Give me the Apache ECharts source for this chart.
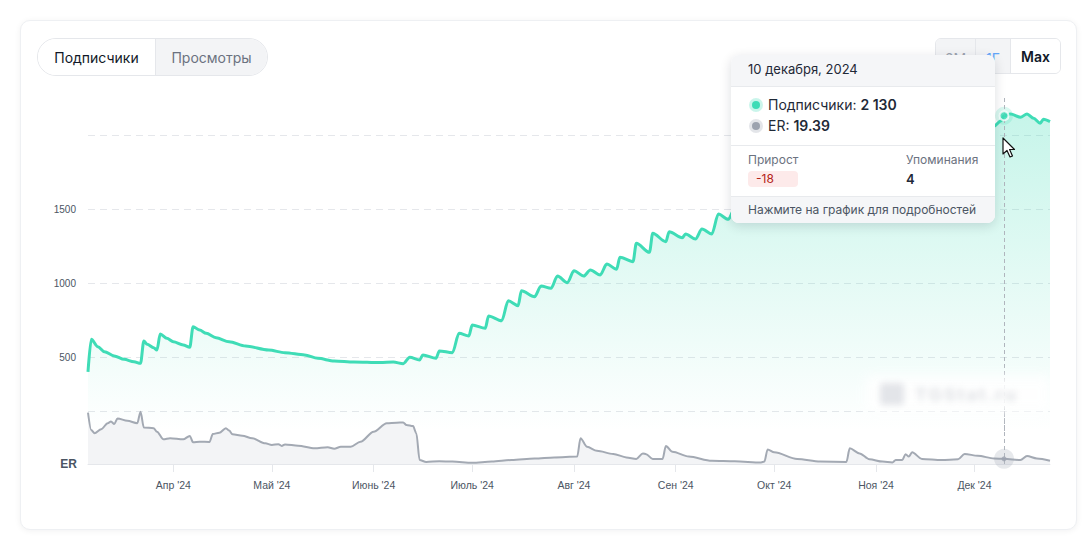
<!DOCTYPE html>
<html><head><meta charset="utf-8">
<script src="https://cdn.jsdelivr.net/npm/echarts@6/dist/echarts.min.js"></script>
<style>
html,body{margin:0;padding:0;background:#fff;width:1092px;height:544px;overflow:hidden;font-family:Inter,"Noto Sans",sans-serif;}
#card{position:absolute;left:20px;top:20px;width:1057px;height:510px;box-sizing:border-box;border:1px solid #eef0f3;border-radius:10px;box-shadow:0 1px 6px rgba(17,24,39,0.06);background:#fff;}
#chart{position:absolute;left:0;top:0;width:1092px;height:544px;}
.tabs{position:absolute;left:37px;top:38px;width:231px;height:38px;box-sizing:border-box;border:1px solid #e5e7eb;border-radius:19px;overflow:hidden;display:flex;font-size:14px;}
.tabs div{display:flex;align-items:center;justify-content:center;height:100%;}
.tabs .on{width:117px;background:#fff;color:#111827;border-right:1px solid #e5e7eb;}
.tabs .off{flex:1;background:#f3f4f6;color:#6b7280;}
.range{position:absolute;left:935px;top:38px;width:126px;height:36px;box-sizing:border-box;border:1px solid #e5e7eb;border-radius:6px;overflow:hidden;display:flex;font-size:14px;}
.range div{display:flex;align-items:center;justify-content:center;height:100%;box-sizing:border-box;padding-top:4px;}
.range .a{width:40px;background:#f3f4f6;border-right:1px solid #e5e7eb;color:#9ca3af;}
.range .b{width:35px;background:#f3f4f6;border-right:1px solid #e5e7eb;color:#60a5fa;}
.range .c{flex:1;background:#fff;color:#111827;font-weight:600;padding-top:0;}
.wm{position:absolute;left:866px;top:376px;width:184px;height:36px;background:#fff;filter:blur(6px);opacity:0.9;}
.wmi{position:absolute;left:880px;top:383px;width:24px;height:22px;background:#e3e5e9;border-radius:4px;filter:blur(3px);}
.wmt{position:absolute;left:915px;top:384px;font-size:18px;font-weight:700;color:#e0e2e6;filter:blur(3px);letter-spacing:2px;}
.tip{position:absolute;left:731px;top:55px;width:264px;height:168px;background:#fff;border-radius:8px;box-shadow:0 3px 12px rgba(17,24,39,0.14);overflow:hidden;color:#1f2937;}
.tip .hd{position:absolute;left:0;top:0;width:100%;height:32px;background:#f5f6f8;border-bottom:1px solid #e8eaed;font-size:13px;line-height:29px;padding-left:17px;box-sizing:border-box;}
.tip .row{position:absolute;left:37px;font-size:14px;line-height:20px;}
.tip .dot{position:absolute;width:8px;height:8px;border-radius:50%;}
.tip .sep{position:absolute;left:0;width:100%;height:1px;background:#e8eaed;}
.tip .lbl{position:absolute;font-size:12px;color:#6b7280;line-height:16px;}
.tip .badge{position:absolute;left:17px;top:116px;width:50px;height:16px;background:#fdeaea;border-radius:4px;color:#b42318;font-size:12px;line-height:16px;padding-left:8px;box-sizing:border-box;}
.tip .ft{position:absolute;left:0;top:142px;width:100%;height:26px;background:#f5f6f8;font-size:12px;color:#4b5563;line-height:26px;padding-left:17px;box-sizing:border-box;}
.cursor{position:absolute;left:1002px;top:137px;}
</style></head>
<body>
<div id="card"></div>
<div id="chart"></div>
<div class="tabs"><div class="on">Подписчики</div><div class="off">Просмотры</div></div>
<div class="range"><div class="a">6М</div><div class="b">1Г</div><div class="c">Max</div></div>
<div class="wm"></div><div class="wmi"></div><div class="wmt">TGStat.ru</div>
<div class="tip">
  <div class="hd">10 декабря, 2024</div>
  <div class="dot" style="left:21px;top:46px;background:#3fdcb6;box-shadow:0 0 0 3px rgba(63,220,182,0.28);"></div>
  <div class="row" style="top:40px;">Подписчики: <b style="font-weight:600">2 130</b></div>
  <div class="dot" style="left:21px;top:67px;background:#9ca3af;box-shadow:0 0 0 3px rgba(156,163,175,0.28);"></div>
  <div class="row" style="top:61px;">ER: <b style="font-weight:600">19.39</b></div>
  <div class="sep" style="top:90px;"></div>
  <div class="lbl" style="left:17px;top:97px;">Прирост</div>
  <div class="badge">-18</div>
  <div class="lbl" style="left:175px;top:97px;">Упоминания</div>
  <div class="lbl" style="left:175px;top:116px;color:#1f2937;font-weight:600;font-size:13px;">4</div>
  <div class="sep" style="top:141px;"></div>
  <div class="ft">Нажмите на график для подробностей</div>
</div>
<svg class="cursor" width="14" height="22" viewBox="0 0 14 22"><path d="M1 1 L1 17 L5 13.5 L8 20 L10.5 19 L7.6 12.5 L12.5 12.5 Z" fill="#fff" stroke="#111" stroke-width="1.2" stroke-linejoin="round"/></svg>
<script>
// ---- data ----
const monthStarts = ['2024-04-01','2024-05-01','2024-06-01','2024-07-01','2024-08-01','2024-09-01','2024-10-01','2024-11-01','2024-12-01'];
const monthLabels = ["Апр '24","Май '24","Июнь '24","Июль '24","Авг '24","Сен '24","Окт '24","Ноя '24","Дек '24"];
const yTickLabels = [500, 1000, 1500];
const rangeStart = '2024-03-06';
const rangeEnd = '2024-12-24';
const focusDate = '2024-12-10';

const subsDates = [
 '2024-03-06','2024-03-07','2024-03-09','2024-03-11','2024-03-14','2024-03-17','2024-03-20','2024-03-22','2024-03-23','2024-03-24','2024-03-26','2024-03-27','2024-03-28','2024-03-30',
 '2024-04-01','2024-04-04','2024-04-06','2024-04-07','2024-04-09','2024-04-11','2024-04-14','2024-04-18','2024-04-23','2024-04-30',
 '2024-05-05','2024-05-11','2024-05-15','2024-05-20','2024-05-26',
 '2024-06-03','2024-06-07','2024-06-10','2024-06-12','2024-06-15','2024-06-16','2024-06-20','2024-06-21','2024-06-25','2024-06-27','2024-06-30',
 '2024-07-01','2024-07-05','2024-07-06','2024-07-10','2024-07-12','2024-07-15','2024-07-16','2024-07-20','2024-07-22','2024-07-25','2024-07-27','2024-07-30',
 '2024-08-01','2024-08-04','2024-08-06','2024-08-09','2024-08-11','2024-08-14','2024-08-15','2024-08-19','2024-08-20','2024-08-24','2024-08-25','2024-08-29','2024-08-30',
 '2024-09-03','2024-09-04','2024-09-07','2024-09-09','2024-09-12','2024-09-14','2024-09-17','2024-09-19','2024-09-23','2024-09-25','2024-09-29',
 '2024-10-02','2024-10-06','2024-10-09','2024-10-13','2024-10-16','2024-10-20','2024-10-23','2024-10-27','2024-10-30',
 '2024-11-03','2024-11-06','2024-11-10','2024-11-13','2024-11-17','2024-11-20','2024-11-24','2024-11-27',
 '2024-12-01','2024-12-04','2024-12-07','2024-12-09','2024-12-10','2024-12-12','2024-12-15','2024-12-17','2024-12-19','2024-12-21','2024-12-22','2024-12-24'
];
const subsValues = [
 400,620,570,536,507,484,468,457,608,586,563,547,655,626,
 603,581,566,705,682,660,630,603,574,547,
 529,514,491,473,466,
 462,466,455,498,480,514,491,541,529,660,642,
 716,694,777,745,880,847,948,907,980,964,1047,1002,
 1083,1047,1088,1054,1128,1093,1174,1144,1268,1207,1336,1279,1347,
 1306,1331,1297,1365,1331,1466,1430,1505,1475,1550,1520,
 1600,1570,1650,1620,1700,1675,1760,1735,1815,
 1790,1860,1835,1910,1890,1960,1940,2020,
 2000,2070,2060,2095,2130,2142,2120,2142,2113,2079,2106,2090
];

const erDates = [
 '2024-03-06','2024-03-07','2024-03-08','2024-03-10','2024-03-12','2024-03-13','2024-03-14','2024-03-15','2024-03-18','2024-03-21','2024-03-22','2024-03-23','2024-03-26','2024-03-27','2024-03-29','2024-03-31',
 '2024-04-04','2024-04-06','2024-04-07','2024-04-09','2024-04-12','2024-04-13','2024-04-15','2024-04-17','2024-04-18','2024-04-19','2024-04-22','2024-04-25','2024-04-29',
 '2024-05-01','2024-05-03','2024-05-04','2024-05-05','2024-05-09','2024-05-14','2024-05-18','2024-05-20','2024-05-22','2024-05-25','2024-05-28',
 '2024-06-01','2024-06-05','2024-06-08','2024-06-10','2024-06-11','2024-06-13','2024-06-14','2024-06-15','2024-06-17','2024-06-21','2024-06-25',
 '2024-07-01','2024-07-07','2024-07-13','2024-07-20','2024-07-26',
 '2024-08-02','2024-08-03','2024-08-05','2024-08-08','2024-08-13','2024-08-17','2024-08-20','2024-08-22','2024-08-23','2024-08-25','2024-08-28','2024-08-29','2024-08-31',
 '2024-09-05','2024-09-12','2024-09-19','2024-09-27','2024-09-28','2024-09-29',
 '2024-10-01','2024-10-08','2024-10-15','2024-10-23','2024-10-24','2024-10-27','2024-10-30',
 '2024-11-03','2024-11-06','2024-11-07','2024-11-09','2024-11-10','2024-11-11','2024-11-12','2024-11-15','2024-11-21','2024-11-26','2024-11-28',
 '2024-12-02','2024-12-07','2024-12-10','2024-12-15','2024-12-17','2024-12-20','2024-12-24'
];
const erValues = [
 194,128,116,131,154,160,151,172,163,154,197,138,135,122,93,97,
 93,106,82,84,83,113,118,135,126,112,107,97,78,
 72,75,68,74,69,59,63,58,65,65,84,
 122,154,156,157,147,143,116,15,8,10,9,
 5,9,15,21,25,
 28,97,65,50,38,25,19,40,37,19,19,68,46,
 28,12,10,6,9,55,
 44,19,9,8,59,40,18,
 9,6,15,15,37,28,44,19,15,18,38,
 31,21,19.39,15,30,21,12
];

// ---- build ----
function ts(s){const p=s.split('-').map(Number);return Date.UTC(p[0],p[1]-1,p[2]);}
const subsData = subsDates.map((d,i)=>[ts(d), subsValues[i]]);
const erData = erDates.map((d,i)=>[ts(d), erValues[i]]);
const monthTs = monthStarts.map(ts);
const fTs = ts(focusDate);
const fSubs = subsValues[subsDates.indexOf(focusDate)];
const fEr = erValues[erDates.indexOf(focusDate)];

const teal = '#3fdcb6';
const axisFont = '"Liberation Sans", Arial, sans-serif';
const chart = echarts.init(document.getElementById('chart'), null, {renderer:'svg'});
chart.setOption({
  animation:false,
  grid:[
    {left:88, width:962, top:98, height:333, outerBoundsMode:'none'},
    {left:88, width:962, top:411, height:53, outerBoundsMode:'none'}
  ],
  xAxis:[
    {type:'value', gridIndex:0, min:ts(rangeStart), max:ts(rangeEnd), show:false, splitLine:{show:false}},
    {type:'value', gridIndex:1, min:ts(rangeStart), max:ts(rangeEnd),
     axisLine:{show:true, lineStyle:{color:'#e5e7eb', width:1}},
     axisTick:{show:true, customValues:monthTs, length:8, lineStyle:{color:'#e5e7eb'}},
     splitLine:{show:false},
     axisLabel:{customValues:monthTs, margin:15, fontSize:10.5, color:'#4b5563', fontFamily:axisFont,
       formatter:function(v){const i=monthTs.indexOf(v);return i>=0?monthLabels[i]:'';}}
    }
  ],
  yAxis:[
    {type:'value', gridIndex:0, min:0, max:2250, interval:500,
     axisLine:{show:false}, axisTick:{show:false},
     splitLine:{show:true, showMinLine:false, showMaxLine:false, lineStyle:{type:[7,5], color:'#e5e7eb', width:1}},
     axisLabel:{margin:12, fontSize:10, color:'#4b5563', fontFamily:axisFont,
       formatter:function(v){return yTickLabels.indexOf(v)>=0?String(v):'';}}
    },
    {type:'value', gridIndex:1, min:0, max:200, interval:200,
     axisLine:{show:false}, axisTick:{show:false},
     splitLine:{show:true, showMinLine:false, showMaxLine:true, lineStyle:{type:[7,5], color:'#e5e7eb', width:1}},
     axisLabel:{margin:11, fontSize:12, fontWeight:'bold', color:'#4b5563', fontFamily:axisFont, padding:[0,0,10,0],
       formatter:function(v){return v===0?'ER':'';}}
    }
  ],
  series:[
    {type:'line', xAxisIndex:0, yAxisIndex:0, data:subsData, showSymbol:false, smooth:0.3, smoothMonotone:'x',
     lineStyle:{color:teal, width:3}, itemStyle:{color:teal},
     areaStyle:{color:new echarts.graphic.LinearGradient(0,0,0,1,[{offset:0,color:'rgba(63,220,182,0.42)'},{offset:1,color:'rgba(63,220,182,0)'}])},
     markLine:{silent:true, symbol:'none', label:{show:false}, lineStyle:{type:[4,3], color:'#b0b5bd', width:1}, data:[{xAxis:fTs}]},
     z:2},
    {type:'line', xAxisIndex:1, yAxisIndex:1, data:erData, showSymbol:false, smooth:0.3, smoothMonotone:'x',
     lineStyle:{color:'#a3a9b3', width:2}, itemStyle:{color:'#a3a9b3'},
     areaStyle:{color:'#f3f4f6', opacity:1},
     markLine:{silent:true, symbol:'none', label:{show:false}, lineStyle:{type:[4,3], color:'#b0b5bd', width:1}, data:[{xAxis:fTs}]},
     z:3},
    {type:'scatter', xAxisIndex:0, yAxisIndex:0, data:[[fTs,fSubs]], symbolSize:18, itemStyle:{color:'rgba(63,220,182,0.25)'}, z:4, silent:true},
    {type:'scatter', xAxisIndex:0, yAxisIndex:0, data:[[fTs,fSubs]], symbolSize:9, itemStyle:{color:teal, borderColor:'#fff', borderWidth:2}, z:5, silent:true},
    {type:'scatter', xAxisIndex:1, yAxisIndex:1, data:[[fTs,fEr]], symbolSize:20, itemStyle:{color:'rgba(156,163,175,0.3)'}, z:4, silent:true},
    {type:'scatter', xAxisIndex:1, yAxisIndex:1, data:[[fTs,fEr]], symbolSize:5, itemStyle:{color:'#9ca3af'}, z:5, silent:true}
  ]
});
</script>
</body></html>
